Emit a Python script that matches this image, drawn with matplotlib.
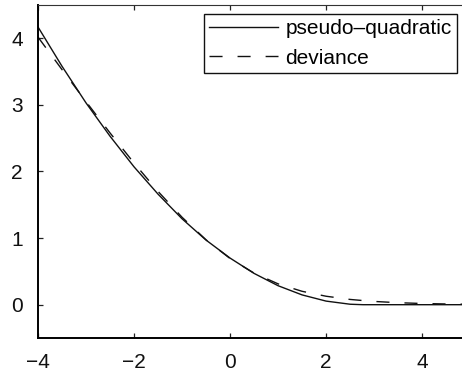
import matplotlib
matplotlib.use('Agg')
import matplotlib.pyplot as plt

# values
x_vals = [-4.0, -3.5, -3.0, -2.5, -2.0, -1.5, -1.0, -0.5, 0.0, 0.5, 1.0, 1.5,
          2.0, 2.5, 2.77, 3.0, 3.5, 4.0, 4.5, 4.83]
pseudo_quadratic = [4.17, 3.58, 3.03, 2.53, 2.07, 1.66, 1.29, 0.97, 0.70, 0.47,
                    0.285, 0.147, 0.054, 0.007, 0.0, 0.0, 0.0, 0.0, 0.0, 0.0]
deviance = [4.018, 3.530, 3.049, 2.579, 2.127, 1.701, 1.313, 0.974, 0.693, 0.474,
            0.313, 0.201, 0.127, 0.079, 0.062, 0.049, 0.030, 0.018, 0.011, 0.008]
legend_labels = ['pseudo\u2013quadratic', 'deviance']
xticks = [-4, -2, 0, 2, 4]
yticks = [0, 1, 2, 3, 4]

plt.rcParams.update({'font.family': ['Liberation Sans', 'DejaVu Sans'],
                     'lines.scale_dashes': False})

fig = plt.figure(figsize=(4.62, 3.76), dpi=100)
ax = fig.add_axes([38/462, 1-338/376, 1-38/462, (338-5)/376])

ax.plot(x_vals, pseudo_quadratic, '-', color='#111111', linewidth=1.0)
ax.plot(x_vals, deviance, color='#111111', linewidth=1.0, linestyle=(0, (9.4, 10.8)))

ax.set_xlim(-4, 4.83)
ax.set_ylim(-0.5, 4.5)
ax.set_xticks(xticks)
ax.set_yticks(yticks)

ax.tick_params(axis='both', direction='in', length=3.5, width=0.9,
               labelsize=15, top=True, color='#222222', labelcolor='#111111')
ax.tick_params(axis='x', pad=11)
ax.tick_params(axis='y', pad=11)

ax.spines['right'].set_visible(False)
ax.spines['left'].set_linewidth(1.4)
ax.spines['bottom'].set_linewidth(1.4)
ax.spines['top'].set_linewidth(0.8)
ax.spines['top'].set_color('#333333')

lgd = ax.legend(legend_labels, loc='upper right',
                bbox_to_anchor=(457/462, 1-14/376), bbox_transform=fig.transFigure,
                borderaxespad=0, fontsize=15, handlelength=3.3, handletextpad=0.38,
                labelspacing=0.5, borderpad=0.25, fancybox=False, framealpha=1)
lgd.get_frame().set_edgecolor('#111111')
lgd.get_frame().set_linewidth(1.0)

plt.savefig('out.png', dpi=100)
